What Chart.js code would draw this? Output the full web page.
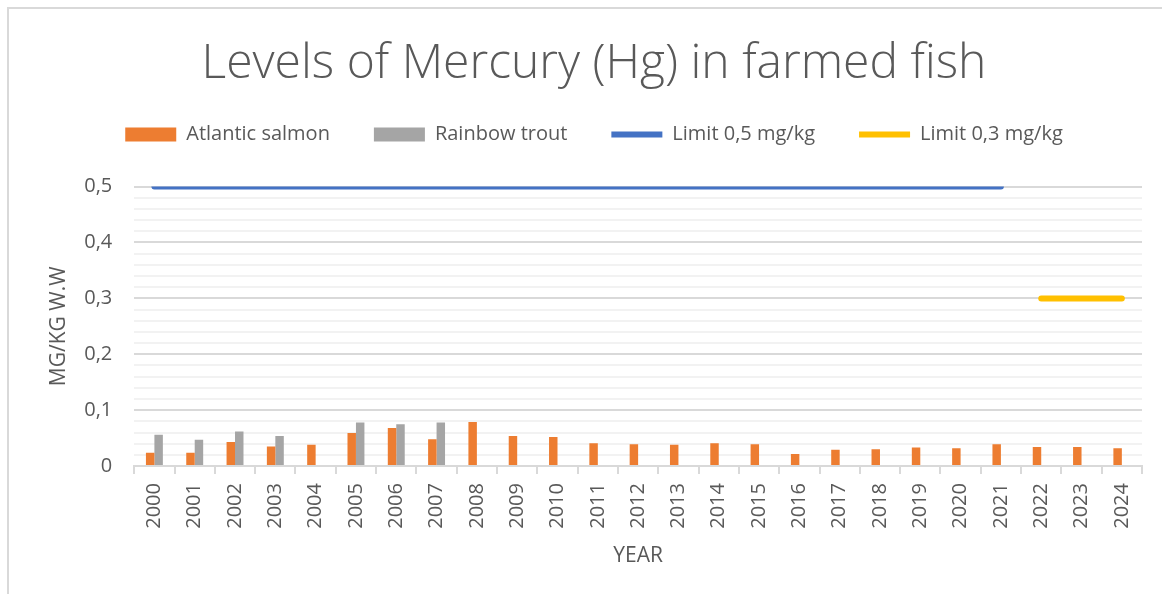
<!DOCTYPE html>
<html>
<head>
<meta charset="utf-8">
<script src="https://cdn.jsdelivr.net/npm/chart.js@4"></script>
<style>
  body { margin: 0; background: #fff; }
  #frame {
    position: absolute; left: 7px; top: 7px;
    width: 1155px; height: 587px;
    border-left: 2px solid #d9d9d9; border-top: 2px solid #d9d9d9;
  }
</style>
</head>
<body>
<div id="frame"><canvas id="hgChart"></canvas></div>
<script>
const years = ['2000', '2001', '2002', '2003', '2004', '2005', '2006', '2007', '2008', '2009',
    '2010', '2011', '2012', '2013', '2014', '2015', '2016', '2017', '2018', '2019',
    '2020', '2021', '2022', '2023', '2024'];
const atlanticSalmon = [0.024, 0.024, 0.043, 0.035, 0.038, 0.059, 0.068, 0.048, 0.079, 0.054,
    0.052, 0.041, 0.039, 0.038, 0.041, 0.039, 0.0215, 0.029, 0.030, 0.033,
    0.032, 0.039, 0.034, 0.034, 0.032];
const rainbowTrout = [0.056, 0.047, 0.062, 0.054, null, 0.078, 0.075, 0.078, null, null,
    null, null, null, null, null, null, null, null, null, null,
    null, null, null, null, null];
const limit05 = [0.5, 0.5, 0.5, 0.5, 0.5, 0.5, 0.5, 0.5, 0.5, 0.5,
    0.5, 0.5, 0.5, 0.5, 0.5, 0.5, 0.5, 0.5, 0.5, 0.5,
    0.5, 0.5, null, null, null];
const limit03 = [null, null, null, null, null, null, null, null, null, null,
    null, null, null, null, null, null, null, null, null, null,
    null, null, 0.3, 0.3, 0.3];

const font = 'Open Sans';
const grey = '#595959';

function isMajor(v) {
    return Math.round(v * 100) % 10 === 0;
}

// extra room under the legend
const legendGap = {
    id: 'legendGap',
    beforeInit(chart) {
        const fit = chart.legend.fit;
        chart.legend.fit = function () {
            fit.bind(chart.legend)();
            this.height += 32;
        };
    }
};

document.addEventListener('DOMContentLoaded', () => {
    const ctx = document.getElementById('hgChart').getContext('2d');
    new Chart(ctx, {
        type: 'bar',
        data: {
            labels: years,
            datasets: [
                {
                    label: 'Atlantic salmon',
                    data: atlanticSalmon,
                    backgroundColor: '#ED7D31',
                    borderWidth: 0,
                    pointStyle: 'rect',
                    categoryPercentage: 0.42,
                    barPercentage: 1.0
                },
                {
                    label: 'Rainbow trout',
                    data: rainbowTrout,
                    backgroundColor: '#A5A5A5',
                    borderWidth: 0,
                    pointStyle: 'rect',
                    categoryPercentage: 0.42,
                    barPercentage: 1.0
                },
                {
                    type: 'line',
                    label: 'Limit 0,5 mg/kg',
                    data: limit05,
                    borderColor: '#4472C4',
                    backgroundColor: '#4472C4',
                    borderWidth: 6,
                    borderCapStyle: 'round',
                    pointRadius: 0,
                    pointStyle: 'line'
                },
                {
                    type: 'line',
                    label: 'Limit 0,3 mg/kg',
                    data: limit03,
                    borderColor: '#FFC000',
                    backgroundColor: '#FFC000',
                    borderWidth: 6,
                    borderCapStyle: 'round',
                    pointRadius: 0,
                    pointStyle: 'line'
                }
            ]
        },
        options: {
            responsive: true,
            maintainAspectRatio: false,
            animation: false,
            layout: { padding: { left: 37, right: 22, top: 0, bottom: 27 } },
            plugins: {
                title: {
                    display: true,
                    text: 'Levels of Mercury (Hg) in farmed fish',
                    color: grey,
                    font: { family: font, size: 48, weight: '300' },
                    padding: { top: 27, bottom: -13 }
                },
                legend: {
                    position: 'top',
                    labels: {
                        color: grey,
                        font: { family: font, size: 20 },
                        usePointStyle: true,
                        pointStyleWidth: 51,
                        boxHeight: 14,
                        padding: 44
                    }
                },
                tooltip: { enabled: false }
            },
            scales: {
                x: {
                    grid: {
                        offset: true,
                        drawOnChartArea: false,
                        drawTicks: true,
                        tickLength: 8,
                        color: '#d9d9d9',
                        lineWidth: 2
                    },
                    border: { color: '#d9d9d9', width: 2 },
                    ticks: {
                        color: grey,
                        font: { family: font, size: 20 },
                        minRotation: 90,
                        maxRotation: 90,
                        autoSkip: false,
                        padding: 9
                    },
                    title: {
                        display: true,
                        text: 'YEAR',
                        color: grey,
                        font: { family: font, size: 21 },
                        padding: { top: 6, bottom: 0 }
                    }
                },
                y: {
                    min: 0,
                    max: 0.5,
                    border: { display: false },
                    grid: {
                        drawTicks: false,
                        lineWidth: 2,
                        color: (c) => (c.tick && isMajor(c.tick.value)) ? '#d9d9d9' : '#f2f2f2'
                    },
                    ticks: {
                        stepSize: 0.02,
                        autoSkip: false,
                        color: grey,
                        font: { family: font, size: 20 },
                        padding: 22,
                        callback: (v) => isMajor(v) ? String(Math.round(v * 10) / 10).replace('.', ',') : ''
                    },
                    title: {
                        display: true,
                        text: 'MG/KG W.W',
                        color: grey,
                        font: { family: font, size: 21 },
                        padding: { top: 0, bottom: -9 }
                    }
                }
            }
        },
        plugins: [legendGap]
    });
}
);
</script>
</body>
</html>
